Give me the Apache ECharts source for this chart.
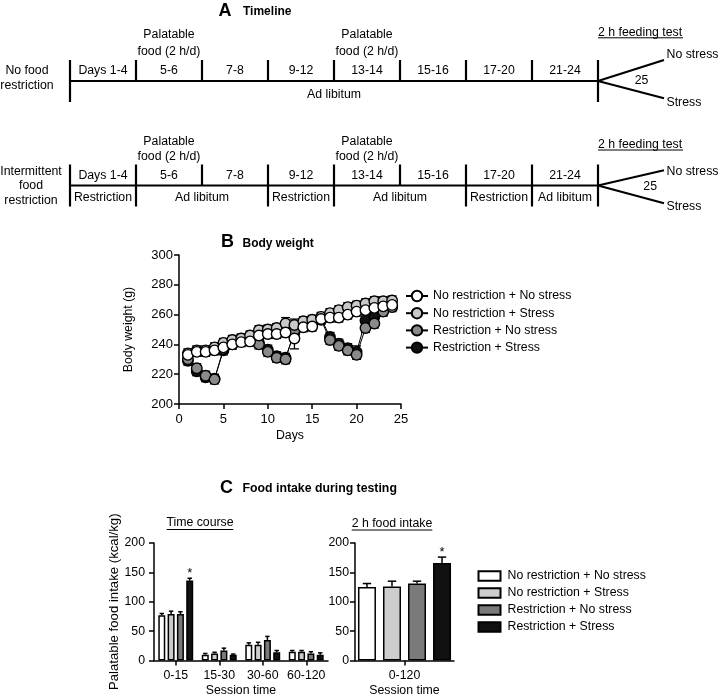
<!DOCTYPE html>
<html><head><meta charset="utf-8">
<script src="https://cdn.jsdelivr.net/npm/echarts@6/dist/echarts.min.js"></script>
<style>html,body{margin:0;padding:0;background:#fff}#c{width:720px;height:698px}</style>
</head><body><div id="c"></div>
<script>
const FONT = '"Liberation Sans", Arial, Helvetica, sans-serif';
const FS = 12.3;

// ---------- Panel A: timeline ----------
const timelineSegments = ['Days 1-4', '5-6', '7-8', '9-12', '13-14', '15-16', '17-20', '21-24'];
const palatableSegments = [1, 4];
const palatableText = ['Palatable', 'food (2 h/d)'];
const row1Label = ['No food', 'restriction'];
const row2Label = ['Intermittent', 'food', 'restriction'];
const row1Phases = [['Ad libitum', 0, 8]];
const row2Phases = [['Restriction', 0, 1], ['Ad libitum', 1, 3], ['Restriction', 3, 4], ['Ad libitum', 4, 6], ['Restriction', 6, 7], ['Ad libitum', 7, 8]];
const testDayLabel = '25';
const testTitle = '2 h feeding test';
const testBranches = ['No stress', 'Stress'];

// ---------- Panel B: body weight ----------
const groupNames = ['No restriction + No stress', 'No restriction + Stress', 'Restriction + No stress', 'Restriction + Stress'];
const days = [1, 2, 3, 4, 5, 6, 7, 8, 9, 10, 11, 12, 13, 14, 15, 16, 17, 18, 19, 20, 21, 22, 23, 24];
const bwNoRestrNoStress = [233, 235, 235, 236, 238, 240, 241.5, 242, 246, 247, 247, 248, 244, 251.5, 252, 257, 258, 258, 260, 262, 263, 264.5, 265.5, 266.5];
const bwNoRestrStress   = [234, 236, 236, 238, 241, 243, 244, 246, 249.5, 250, 251, 254, 253, 255.5, 256.5, 258.5, 261, 263, 265, 266, 267.5, 269, 269, 269.5];
const bwRestrNoStress   = [230, 224, 219, 216.5, 237, 240, 243, 244, 240, 235, 231, 230, 249, 252.5, 255, 256.5, 243, 239, 236, 233, 251, 254, 262, 265];
const bwRestrStress     = [229, 222, 218, 217, 236, 241, 243.5, 245, 241, 236.5, 232, 231, 248, 252, 255.5, 257.5, 245, 240.5, 237.5, 235, 256, 258.5, 263, 266];
const bwSemNoRestrNoStress = [3, 3, 3, 3, 3, 3, 3, 3, 3, 3, 3, 3, 7, 3, 3, 3, 3, 3, 3, 3, 3, 3, 3, 3];
const bwSemNoRestrStress   = [3, 3, 3, 3, 3, 3, 3, 3, 3, 3, 3, 4, 4, 3, 3, 3, 3, 3, 3, 3, 3, 3, 3, 3];
const bwSemRestrNoStress   = [3, 3, 3, 3, 3, 3, 3, 3, 3, 3, 3, 3, 3, 3, 3, 3, 3, 3, 3, 3, 3, 3, 3, 3];
const bwSemRestrStress     = [3, 3, 3, 3, 3, 3, 3, 3, 3, 3, 3, 3, 3, 3, 3, 3, 3, 3, 3, 4, 3, 3, 3, 3];
const bwTicksY = [200, 220, 240, 260, 280, 300];

// ---------- Panel C: food intake ----------
const sessionBins = ['0-15', '15-30', '30-60', '60-120'];
const tcNoRestrNoStress = [77, 10, 27, 15];
const tcNoRestrStress   = [79, 12, 27, 15];
const tcRestrNoStress   = [79, 17, 35, 12];
const tcRestrStress     = [136, 10, 14, 10];
const tcSemNoRestrNoStress = [3, 2, 3, 2];
const tcSemNoRestrStress   = [5, 2, 4, 2];
const tcSemRestrNoStress   = [4, 4, 6, 3];
const tcSemRestrStress     = [4, 1, 3, 3];
const tcSignificant = [[false, false, false, false], [false, false, false, false], [false, false, false, false], [true, false, false, false]];
const totalBins = ['0-120'];
const totNoRestrNoStress = [125];
const totNoRestrStress   = [126];
const totRestrNoStress   = [131];
const totRestrStress     = [166];
const totSemNoRestrNoStress = [6];
const totSemNoRestrStress   = [9];
const totSemRestrNoStress   = [4];
const totSemRestrStress     = [10];
const totSignificant = [[false], [false], [false], [true]];

const bwColors = ['#ffffff', '#c9c9c9', '#8a8a8a', '#111111'];
const barColors = ['#ffffff', '#cdcdcd', '#7a7a7a', '#111111'];

const bwMeans = [bwNoRestrNoStress, bwNoRestrStress, bwRestrNoStress, bwRestrStress];
const bwSems = [bwSemNoRestrNoStress, bwSemNoRestrStress, bwSemRestrNoStress, bwSemRestrStress];
const tcMeans = [tcNoRestrNoStress, tcNoRestrStress, tcRestrNoStress, tcRestrStress];
const tcSems = [tcSemNoRestrNoStress, tcSemNoRestrStress, tcSemRestrNoStress, tcSemRestrStress];
const totMeans = [totNoRestrNoStress, totNoRestrStress, totRestrNoStress, totRestrStress];
const totSems = [totSemNoRestrNoStress, totSemNoRestrStress, totSemRestrNoStress, totSemRestrStress];

// ---------- timeline renderer ----------
function timelineRenderer(nameLines, phases, L) {
  return function (params, api) {
    const n = timelineSegments.length;
    const X = i => api.coord([i, 0])[0];
    const yTop = api.coord([0, 1])[1], yBot = api.coord([0, 0])[1], yMid = api.coord([0, 0.5])[1];
    const kids = [];
    const ln = (x1, y1, x2, y2, w) => kids.push({ type: 'line', shape: { x1, y1, x2, y2 }, style: { stroke: '#000', lineWidth: w || 2.2 } });
    const tx = (t, x, y, align, extra) => kids.push({ type: 'text', style: Object.assign({ text: t, x, y, align: align || 'center', verticalAlign: 'middle', fontSize: FS, fontFamily: FONT, fill: '#000' }, extra || {}) });
    ln(X(0), yMid, X(n), yMid);
    ln(X(0), yTop, X(0), yBot);
    ln(X(n), yTop, X(n), yBot);
    for (let i = 1; i < n; i++) ln(X(i), yTop, X(i), yMid);
    phases.forEach(p => { if (p[1] > 0) ln(X(p[1]), yMid, X(p[1]), yBot); });
    timelineSegments.forEach((s, i) => tx(s, (X(i) + X(i + 1)) / 2, yMid + L.segDy));
    palatableSegments.forEach(i => {
      const cx = (X(i) + X(i + 1)) / 2;
      tx(palatableText[0], cx, yMid + L.palDy[0]);
      tx(palatableText[1], cx, yMid + L.palDy[1]);
    });
    phases.forEach(p => tx(p[0], (X(p[1]) + X(p[2])) / 2, yMid + L.phaseDy));
    tx(nameLines.join('\n'), X(0) + L.nameDx, yMid + L.nameDy, 'center', { lineHeight: 14.6 });
    ln(X(n), yMid, X(n + 1), yMid + L.forkUp);
    ln(X(n), yMid, X(n + 1), yMid + L.forkDown);
    tx(testBranches[0], X(n + 1) + 2.5, yMid + L.noStressDy, 'left');
    tx(testBranches[1], X(n + 1) + 2.5, yMid + L.stressDy, 'left');
    tx(testDayLabel, X(n + L.dayDx), yMid + L.dayDy);
    tx(testTitle, X(n), yMid + L.testDy, 'left');
    ln(X(n), yMid + L.testDy + 5.5, X(n) + 85, yMid + L.testDy + 5.5, 1);
    return { type: 'group', children: kids };
  };
}
const row1Layout = { segDy: -10.3, palDy: [-46, -29.5], phaseDy: 14, nameDx: -43, nameDy: -3, forkUp: -21, forkDown: 17.3, noStressDy: -26.7, stressDy: 21.7, dayDx: 0.66, dayDy: 0, testDy: -48.7 };
const row2Layout = { segDy: -9.6, palDy: [-43.6, -28.6], phaseDy: 12.4, nameDx: -39, nameDy: 0.5, forkUp: -15.3, forkDown: 17.7, noStressDy: -13.6, stressDy: 21.4, dayDx: 0.79, dayDy: 1.4, testDy: -41 };

// ---------- error bar renderers ----------
function bwErrRenderer(params, api) {
  const x = api.coord([api.value(0), api.value(1)])[0];
  const yHi = api.coord([0, api.value(1) + api.value(2)])[1];
  const yLo = api.coord([0, api.value(1) - api.value(2)])[1];
  const st = { stroke: '#000', lineWidth: 1.3 };
  return { type: 'group', children: [
    { type: 'line', shape: { x1: x, y1: yLo, x2: x, y2: yHi }, style: st },
    { type: 'line', shape: { x1: x - 4.5, y1: yHi, x2: x + 4.5, y2: yHi }, style: st },
    { type: 'line', shape: { x1: x - 4.5, y1: yLo, x2: x + 4.5, y2: yLo }, style: st }
  ] };
}
function barErrRenderer(barW, gapRatio, capHalf) {
  return function (params, api) {
    const cat = api.value(0), g = api.value(3);
    const cx = api.coord([cat, 0])[0] + (g - 1.5) * barW * (1 + gapRatio);
    const yTop = api.coord([cat, api.value(1)])[1];
    const yHi = api.coord([cat, api.value(1) + api.value(2)])[1];
    const st = { stroke: '#000', lineWidth: 1.5 };
    const kids = [
      { type: 'line', shape: { x1: cx, y1: yTop, x2: cx, y2: yHi }, style: st },
      { type: 'line', shape: { x1: cx - capHalf, y1: yHi, x2: cx + capHalf, y2: yHi }, style: st }
    ];
    if (api.value(4)) kids.push({ type: 'text', style: { text: '*', x: cx, y: yHi - 5, align: 'center', verticalAlign: 'middle', fontSize: 13, fontFamily: FONT, fill: '#000' } });
    return { type: 'group', children: kids };
  };
}

const axisBase = {
  axisLine: { show: true, onZero: false, lineStyle: { color: '#000', width: 1.5 } },
  axisTick: { show: true, inside: false, length: 5, lineStyle: { color: '#000', width: 1.5 } },
  axisLabel: { color: '#000', fontFamily: FONT, fontSize: FS },
  splitLine: { show: false },
  nameTextStyle: { color: '#000', fontFamily: FONT, fontSize: FS },
  nameLocation: 'middle'
};
function ax(extra) { return Object.assign({}, JSON.parse(JSON.stringify(axisBase)), extra); }

const series = [];
series.push({ type: 'custom', xAxisIndex: 0, yAxisIndex: 0, data: [[0, 0]], renderItem: timelineRenderer(row1Label, row1Phases, row1Layout), silent: true });
series.push({ type: 'custom', xAxisIndex: 1, yAxisIndex: 1, data: [[0, 0]], renderItem: timelineRenderer(row2Label, row2Phases, row2Layout), silent: true });

// body weight error bars + lines (drawn black first, white last)
[3, 2, 1, 0].forEach(g => {
  series.push({ type: 'custom', xAxisIndex: 2, yAxisIndex: 2, z: 1, silent: true,
    data: days.map((d, i) => [d, bwMeans[g][i], bwSems[g][i]]), renderItem: bwErrRenderer });
});
[3, 2, 1, 0].forEach(g => {
  series.push({ type: 'line', name: groupNames[g], xAxisIndex: 2, yAxisIndex: 2, z: 2 + (3 - g) * 0.1,
    data: days.map((d, i) => [d, bwMeans[g][i]]),
    symbol: 'circle', symbolSize: 10.5, showSymbol: true,
    itemStyle: { color: bwColors[g], borderColor: '#000', borderWidth: 1.4 },
    lineStyle: { color: '#000', width: 1 }, emphasis: { disabled: true } });
});

// food intake bars
const C1_W = 7, C1_GAP = 0.33, C2_W = 18, C2_GAP = 0.39;
[0, 1, 2, 3].forEach(g => {
  series.push({ type: 'bar', name: 'C:' + groupNames[g], xAxisIndex: 3, yAxisIndex: 3, data: tcMeans[g],
    barWidth: C1_W, barGap: (C1_GAP * 100) + '%', itemStyle: { color: barColors[g], borderColor: '#000', borderWidth: 1.5 }, emphasis: { disabled: true } });
});
[0, 1, 2, 3].forEach(g => {
  series.push({ type: 'bar', name: 'C:' + groupNames[g], xAxisIndex: 4, yAxisIndex: 4, data: totMeans[g],
    barWidth: C2_W, barGap: (C2_GAP * 100) + '%', itemStyle: { color: barColors[g], borderColor: '#000', borderWidth: 1.5 }, emphasis: { disabled: true } });
});
const tcErrData = [], totErrData = [];
[0, 1, 2, 3].forEach(g => {
  sessionBins.forEach((b, i) => tcErrData.push([i, tcMeans[g][i], tcSems[g][i], g, tcSignificant[g][i] ? 1 : 0]));
  totalBins.forEach((b, i) => totErrData.push([i, totMeans[g][i], totSems[g][i], g, totSignificant[g][i] ? 1 : 0]));
});
series.push({ type: 'custom', xAxisIndex: 3, yAxisIndex: 3, z: 3, silent: true, data: tcErrData, renderItem: barErrRenderer(C1_W, C1_GAP, 2.2) });
series.push({ type: 'custom', xAxisIndex: 4, yAxisIndex: 4, z: 3, silent: true, data: totErrData, renderItem: barErrRenderer(C2_W, C2_GAP, 4.2) });

const bold = { fontWeight: 'bold', fontFamily: FONT, fill: '#000' };
const catLabel = { color: '#000', fontFamily: FONT, fontSize: FS, margin: 9, interval: 0 };
const catTick = { show: true, alignWithLabel: true, interval: 0, length: 5, lineStyle: { color: '#000', width: 1.5 } };
const option = {
  animation: false,
  backgroundColor: '#fff',
  grid: [
    { left: 70, top: 60, width: 594, height: 42 },
    { left: 70, top: 164.5, width: 594, height: 42 },
    { left: 179, top: 255, width: 222, height: 149 },
    { left: 154, top: 543, width: 174, height: 117.5 },
    { left: 355, top: 543, width: 99, height: 117.5 }
  ],
  xAxis: [
    { gridIndex: 0, type: 'value', min: 0, max: 9, show: false },
    { gridIndex: 1, type: 'value', min: 0, max: 9, show: false },
    ax({ gridIndex: 2, type: 'value', min: 0, max: 25, interval: 5, name: 'Days', nameGap: 26, axisLabel: { color: '#000', fontFamily: FONT, fontSize: 13, margin: 9 } }),
    ax({ gridIndex: 3, type: 'category', data: sessionBins, name: 'Session time', nameGap: 24.5, axisTick: catTick, axisLabel: catLabel }),
    ax({ gridIndex: 4, type: 'category', data: totalBins, name: 'Session time', nameGap: 24.5, axisTick: catTick, axisLabel: catLabel })
  ],
  yAxis: [
    { gridIndex: 0, type: 'value', min: 0, max: 1, show: false },
    { gridIndex: 1, type: 'value', min: 0, max: 1, show: false },
    ax({ gridIndex: 2, type: 'value', min: bwTicksY[0], max: bwTicksY[bwTicksY.length - 1], interval: 20, name: 'Body weight (g)', nameGap: 44, axisLabel: { color: '#000', fontFamily: FONT, fontSize: 13, margin: 6 } }),
    ax({ gridIndex: 3, type: 'value', min: 0, max: 200, interval: 50, name: 'Palatable food intake (kcal/kg)', nameGap: 31, nameTextStyle: { color: '#000', fontFamily: FONT, fontSize: 13.2 }, axisLabel: { color: '#000', fontFamily: FONT, fontSize: FS, margin: 9 } }),
    ax({ gridIndex: 4, type: 'value', min: 0, max: 200, interval: 50, axisLabel: { color: '#000', fontFamily: FONT, fontSize: FS, margin: 6 } })
  ],
  legend: [
    { orient: 'vertical', left: 405, top: 289.5, padding: 0, itemWidth: 22, itemHeight: 13, itemGap: 4.2, selectedMode: false,
      data: groupNames, textStyle: { color: '#000', fontFamily: FONT, fontSize: FS, lineHeight: 13 } },
    { orient: 'vertical', left: 477.5, top: 570, padding: 0, itemWidth: 22, itemHeight: 9.5, itemGap: 5, selectedMode: false,
      data: groupNames.map(n => 'C:' + n), icon: 'rect', formatter: n => n.replace(/^C:/, ''),
      textStyle: { color: '#000', fontFamily: FONT, fontSize: FS, lineHeight: 12, padding: [0, 0, 0, 2] } }
  ],
  graphic: [
    { type: 'text', x: 225, y: 11, style: Object.assign({ text: 'A', fontSize: 18, align: 'center', verticalAlign: 'middle' }, bold) },
    { type: 'text', x: 243, y: 12, style: Object.assign({ text: 'Timeline', fontSize: 12, align: 'left', verticalAlign: 'middle' }, bold) },
    { type: 'text', x: 227.5, y: 242.5, style: Object.assign({ text: 'B', fontSize: 18, align: 'center', verticalAlign: 'middle' }, bold) },
    { type: 'text', x: 242.5, y: 244, style: Object.assign({ text: 'Body weight', fontSize: 12, align: 'left', verticalAlign: 'middle' }, bold) },
    { type: 'text', x: 226.5, y: 488, style: Object.assign({ text: 'C', fontSize: 18, align: 'center', verticalAlign: 'middle' }, bold) },
    { type: 'text', x: 242.5, y: 489, style: Object.assign({ text: 'Food intake during testing', fontSize: 12.3, align: 'left', verticalAlign: 'middle' }, bold) },
    { type: 'text', x: 200, y: 522.7, style: { text: 'Time course', fontSize: FS, fontFamily: FONT, fill: '#000', align: 'center', verticalAlign: 'middle' } },
    { type: 'line', shape: { x1: 166.7, y1: 529.5, x2: 233.3, y2: 529.5 }, style: { stroke: '#000', lineWidth: 1 } },
    { type: 'text', x: 392, y: 523.3, style: { text: '2 h food intake', fontSize: FS, fontFamily: FONT, fill: '#000', align: 'center', verticalAlign: 'middle' } },
    { type: 'line', shape: { x1: 351.7, y1: 530, x2: 432.3, y2: 530 }, style: { stroke: '#000', lineWidth: 1 } }
  ],
  series: series
};
const chart = echarts.init(document.getElementById('c'), null, { renderer: 'canvas', width: 720, height: 698 });
chart.setOption(option);
</script></body></html>
